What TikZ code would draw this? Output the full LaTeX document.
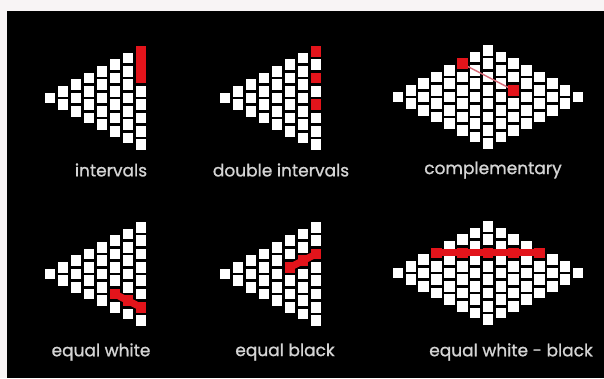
\documentclass[tikz,border=0pt]{standalone}
\usepackage{fontspec}
\newfontfamily\labelfont[FakeBold=1]{Poppins}
\definecolor{paper}{HTML}{F8F4F5}
\definecolor{sqred}{HTML}{E3141B}
\definecolor{linkred}{HTML}{D86A78}
\definecolor{labelgray}{HTML}{D4D4D4}
\begin{document}
\begin{tikzpicture}[x=1pt, y=-1pt,
  sq/.style={fill=white, minimum size=10.5pt, inner sep=0pt, outer sep=0pt},
  redsq/.style={sq, fill=sqred},
  redbar/.style={sqred, line width=7pt},
  redlink/.style={linkred, line width=1.4pt},
  tag/.style={text=labelgray, font=\labelfont\fontsize{17}{19}\selectfont, inner sep=0pt}]

% Background
\fill[paper] (0,0) rectangle (604,378);
\fill[black] (7,11) rectangle (604,378);

% Half diamonds, columns of 1 to 8 squares
\foreach \name/\xa/\ya in {int/50/98, dbl/225/98, eqw/50/274, eqb/225/274}{
  \foreach \c in {1,...,8}{
    \foreach \r in {1,...,\c}{
      \node[sq] (\name-\c-\r) at ({\xa+(\c-1)*13}, {\ya+(2*\r-\c-1)*6.67}) {};
    }
  }
}

% Full diamonds, 15 columns
\foreach \name/\xa/\ya in {cmp/398/97, ewb/398/273}{
  \foreach \c in {1,...,15}{
    \pgfmathtruncatemacro\n{8-abs(\c-8)}
    \foreach \r in {1,...,\n}{
      \node[sq] (\name-\c-\r) at ({\xa+(\c-1)*12.86}, {\ya+(2*\r-\n-1)*6.67}) {};
    }
  }
}

% intervals
\draw[sqred, line width=10.5pt, line cap=rect] (int-8-1.center) -- (int-8-3.center);

% double intervals
\node[redsq] (dbl-a) at (dbl-8-1) {};
\node[redsq] (dbl-b) at (dbl-8-3) {};
\node[redsq] (dbl-c) at (dbl-8-5) {};

% complementary
\draw[redlink] (cmp-6-1.center) -- (cmp-10-3.center);
\node[redsq] (cmp-a) at (cmp-6-1) {};
\node[redsq] (cmp-b) at (cmp-10-3) {};

% equal white
\draw[redbar] (eqw-6-5.center) -- (eqw-7-6.center) -- (eqw-8-7.center);
\node[redsq] (eqw-a) at (eqw-6-5) {};
\node[redsq] (eqw-b) at (eqw-7-6) {};
\node[redsq] (eqw-c) at (eqw-8-7) {};

% equal black
\draw[redbar] (eqb-6-3.center) -- (eqb-7-3.center) -- (eqb-8-3.center);
\node[redsq] (eqb-a) at (eqb-6-3) {};
\node[redsq] (eqb-b) at (eqb-7-3) {};
\node[redsq] (eqb-c) at (eqb-8-3) {};

% equal white - black
\draw[redbar] (ewb-4-1.center) -- (ewb-12-1.center);
\foreach \c/\r [count=\i] in {4/1, 6/2, 8/3, 10/2, 12/1}
  \node[redsq] (ewb-red\i) at (ewb-\c-\r) {};

% Labels
\node[tag] (lab-int) at (111,170) {intervals};
\node[tag] (lab-dbl) at (281,170) {double intervals};
\node[tag] (lab-cmp) at (493,170) {complementary};
\node[tag] (lab-eqw) at (101,352) {equal white};
\node[tag] (lab-eqb) at (285,352) {equal black};
\node[tag] (lab-ewb) at (511,352) {equal white - black};

\end{tikzpicture}
\end{document}
